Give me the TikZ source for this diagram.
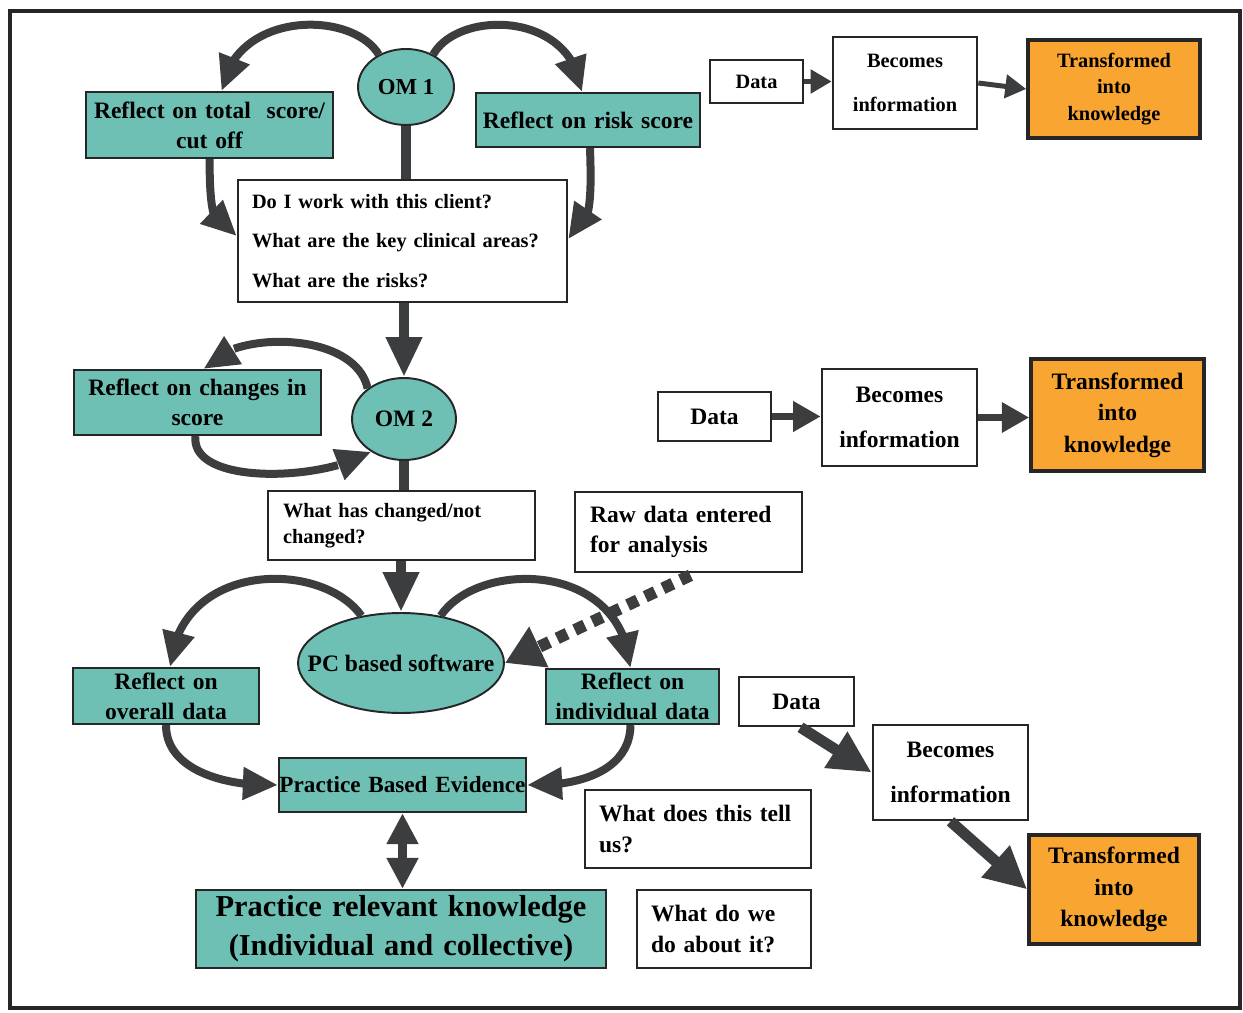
\documentclass[tikz,border=0pt]{standalone}
\usepackage{fontspec}
\setmainfont{Liberation Serif}
\usetikzlibrary{arrows.meta,shapes.geometric,calc,bending}
\definecolor{tealfill}{HTML}{6EBFB4}
\definecolor{orangefill}{HTML}{F8A631}
\definecolor{arrowgray}{HTML}{3C3D3F}
\definecolor{edgegray}{HTML}{262626}

\newcommand\bx[8]{%
 \pgfmathsetmacro\bxw{(#4-#2-2*#6)*0.02}%
 \pgfmathsetmacro\bxh{(#5-#3)*0.02}%
 \pgfmathsetmacro\bxp{#6*0.02}%
 \pgfmathsetmacro\bxcx{(#2+#4)/2}%
 \pgfmathsetmacro\bxcy{(#3+#5)/2}%
 \node[#7, inner xsep=\bxp cm, inner ysep=0pt, text width=\bxw cm, minimum height=\bxh cm] (#1) at (\bxcx,\bxcy) {#8};}

\tikzset{
  tealbox/.style={draw=edgegray, line width=1.3pt, fill=tealfill, align=center,
     font=\bfseries\fontsize{13.4}{17}\selectfont},
  whitebox/.style={draw=edgegray, line width=1.5pt, fill=white, align=center,
     font=\bfseries\fontsize{13.4}{17}\selectfont},
  qbox/.style={draw=edgegray, line width=1.5pt, fill=white, align=left},
  orangebox/.style={draw=edgegray, line width=2pt, fill=orangefill, align=center,
     font=\bfseries\fontsize{13.4}{18}\selectfont},
  tealell/.style={ellipse, draw=edgegray, line width=1.1pt, fill=tealfill, inner sep=0pt},
  elltext/.style={inner sep=0pt, font=\bfseries\fontsize{13.4}{17}\selectfont},
  stem/.style={draw=arrowgray, line width=0.2cm},
  bigarrow/.style={draw=arrowgray, line width=0.2cm, -{Triangle[length=0.8cm,width=0.68cm]}},
  curvearrow/.style={draw=arrowgray, line width=0.16cm, -{Triangle[length=0.7cm,width=0.62cm]}},
  twoarrow/.style={draw=arrowgray, line width=0.17cm, {Triangle[length=0.62cm,width=0.6cm]}-{Triangle[length=0.62cm,width=0.6cm]}},
  smallarrow/.style={draw=arrowgray, line width=0.1cm, -{Triangle[length=0.42cm,width=0.46cm]}},
  midarrow/.style={draw=arrowgray, line width=0.14cm, -{Triangle[length=0.55cm,width=0.58cm]}},
  diagarrow/.style={draw=arrowgray, line width=0.22cm, -{Triangle[length=0.85cm,width=0.8cm]}},
  dotarrow/.style={draw=arrowgray, line width=0.24cm, dash pattern=on 0.22cm off 0.17cm, -{Triangle[length=0.75cm,width=0.85cm]}},
}

\begin{document}
\begin{tikzpicture}[x=0.02cm,y=-0.02cm]
\useasboundingbox (0,0) rectangle (1243,1013);
\draw[edgegray, line width=1.8pt] (10,11) rectangle (1240,1008);

% --- top section ---
\node[tealell, minimum width=1.92cm, minimum height=1.52cm] (om1) at (406,87) {};
\node[elltext, font=\bfseries\fontsize{13}{16}\selectfont] (om1t) at (om1) {OM 1};
\bx{rt}{86}{92}{333}{158}{4}{tealbox}{Reflect on total~ score/\\cut off}
\bx{rr}{476}{93}{700}{147}{4}{tealbox}{Reflect on risk score}
\bx{q}{238}{180}{567}{302}{14}{qbox, font=\bfseries\fontsize{11.6}{22.7}\selectfont}{Do I work with this client?\\What are the key clinical areas?\\What are the risks?}

\draw[curvearrow] (om1.130) .. controls (352,10) and (235,10) .. ($(rt.north)+(12,0)$);
\draw[curvearrow] (om1.50) .. controls (458,10) and (572,10) .. ($(rr.north)+(-6,0)$);
\draw[curvearrow] (rt.south) .. controls (210,210) and (212,232) .. ($(q.west)+(0,-5)$);
\draw[curvearrow] ($(rr.south)+(2,0)$) .. controls (592,205) and (590,230) .. ($(q.east)+(0,-2)$);
\draw[stem] (om1.south) -- (om1.south |- q.north);

% --- OM2 section ---
\node[tealell, minimum width=2.08cm, minimum height=1.64cm] (om2) at (404,419) {};
\node[elltext] (om2t) at (om2) {OM 2};
\draw[bigarrow] (om2.north |- q.south) -- (om2.north);
\bx{rc}{74}{370}{321}{435}{4}{tealbox}{Reflect on changes in\\score}
\draw[curvearrow] (om2.140) .. controls (355,330) and (230,330) .. ($(rc.north)+(6,0)$);
\draw[curvearrow] ($(rc.south)+(-2,0)$) .. controls (190,485) and (320,482) .. (om2.225);

\bx{wc}{268}{491}{535}{560}{15}{qbox, font=\bfseries\fontsize{11.6}{14.7}\selectfont}{What has changed/not\\changed?}
\draw[stem] (om2.south) -- (om2.south |- wc.north);

\bx{raw}{575}{492}{802}{572}{15}{qbox, font=\bfseries\fontsize{13.4}{17}\selectfont}{Raw data entered\\for analysis}

% --- PC section ---
\node[tealell, minimum width=4.12cm, minimum height=2.0cm] (pc) at (401,663) {};
\node[elltext] (pct) at (pc) {PC based software};
\draw[bigarrow] (pc.north |- wc.south) -- (pc.north);
\bx{ro}{73}{668}{259}{724}{2}{tealbox}{Reflect on\\overall data}
\bx{ri}{546}{669}{719}{724}{2}{tealbox}{Reflect on\\individual data}
\draw[curvearrow] (pc.130) .. controls (322,560) and (180,560) .. ($(ro.north)+(4,0)$);
\draw[curvearrow] (pc.50) .. controls (478,560) and (622,560) .. ($(ri.north)+(-2,0)$);
\draw[dotarrow] ($(raw.south)+(2,2)$) -- (pc.east);

\bx{pbe}{279}{758}{526}{812}{0}{tealbox, font=\bfseries\fontsize{13.2}{16}\selectfont}{Practice Based Evidence}
\draw[curvearrow] (ro.south) .. controls (166,770) and (225,787) .. (pbe.west);
\draw[curvearrow] ($(ri.south)+(-2,0)$) .. controls (630,770) and (580,787) .. (pbe.east);

\bx{prk}{196}{890}{606}{968}{4}{tealbox, font=\bfseries\fontsize{17.3}{22}\selectfont}{Practice relevant knowledge\\(Individual and collective)}
\draw[twoarrow] (pbe.south) -- (pbe.south |- prk.north);

\bx{wt}{585}{790}{811}{868}{14}{qbox, font=\bfseries\fontsize{13.4}{17.6}\selectfont}{What does this tell\\us?}
\bx{wd}{637}{890}{811}{968}{14}{qbox, font=\bfseries\fontsize{13.4}{17.6}\selectfont}{What do we\\do about it?}

% --- right column, row 1 ---
\bx{d1}{710}{60}{803}{103}{2}{whitebox, font=\bfseries\fontsize{11.6}{14}\selectfont}{Data}
\bx{b1}{833}{37}{977}{129}{2}{whitebox, font=\bfseries\fontsize{11.6}{25.5}\selectfont}{Becomes\\information}
\bx{t1}{1028}{40}{1200}{138}{2}{orangebox, font=\bfseries\fontsize{11.6}{15.3}\selectfont}{Transformed\\into\\knowledge}
\draw[smallarrow] (d1.east) -- (d1.east -| b1.west);
\draw[smallarrow] (b1.east) -- (t1.west);

% --- right column, row 2 ---
\bx{d2}{658}{392}{771}{441}{2}{whitebox}{Data}
\bx{b2}{822}{369}{977}{466}{2}{whitebox, font=\bfseries\fontsize{13.4}{25.5}\selectfont}{Becomes\\information}
\bx{t2}{1031}{359}{1204}{471}{2}{orangebox}{Transformed\\into\\knowledge}
\draw[midarrow] (d2.east) -- (d2.east -| b2.west);
\draw[midarrow] (b2.east) -- (b2.east -| t2.west);

% --- right column, row 3 ---
\bx{d3}{739}{677}{854}{726}{2}{whitebox}{Data}
\bx{b3}{873}{725}{1028}{820}{2}{whitebox, font=\bfseries\fontsize{13.4}{26}\selectfont}{Becomes\\information}
\bx{t3}{1029}{835}{1199}{944}{2}{orangebox}{Transformed\\into\\knowledge}
\draw[diagarrow] ($(d3.south)+(4,0)$) -- (b3.west);
\draw[diagarrow] (b3.south) -- (t3.west);
\end{tikzpicture}
\end{document}
